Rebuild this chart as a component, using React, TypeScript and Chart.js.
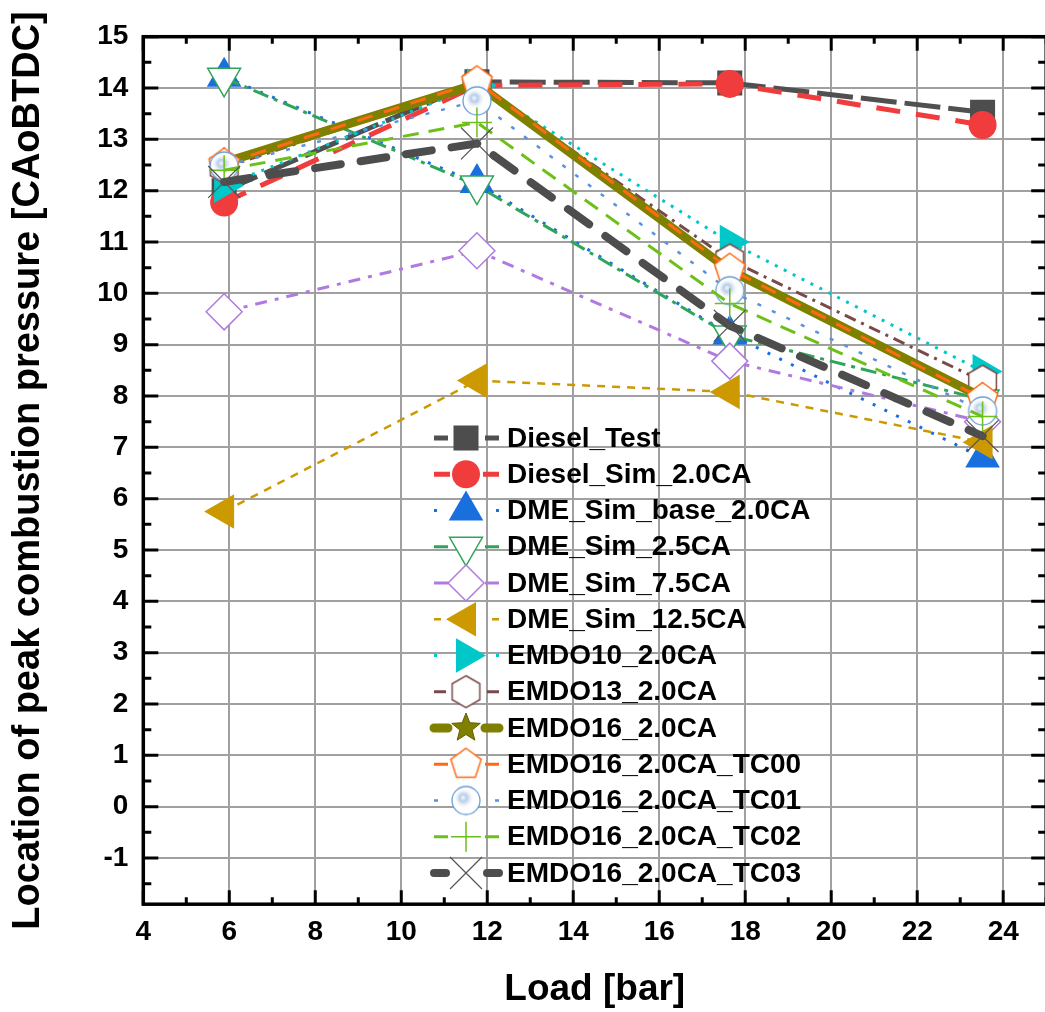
import React, { useEffect, useRef } from 'react';
import { Chart, registerables } from 'chart.js';
import { drawPoint } from 'chart.js/helpers';

Chart.register(...registerables);

// ---------------- data ----------------
const LOADS = [5.88, 11.76, 17.64, 23.52];

const DIESEL_TEST = [12.0, 14.12, 14.1, 13.53];
const DIESEL_SIM_2_0CA = [11.77, 14.05, 14.08, 13.28];
const DME_SIM_BASE_2_0CA = [14.22, 12.15, 9.2, 6.8];
const DME_SIM_2_5CA = [14.2, 12.1, 9.18, 7.93];
const DME_SIM_7_5CA = [9.64, 10.83, 8.68, 7.5];
const DME_SIM_12_5CA = [5.75, 8.3, 8.08, 7.1];
const EMDO10_2_0CA = [12.1, 14.05, 11.0, 8.48];
const EMDO13_2_0CA = [12.45, 14.08, 10.65, 8.29];
const EMDO16_2_0CA = [12.55, 14.08, 10.45, 7.97];
const EMDO16_TC00 = [12.52, 14.12, 10.47, 7.95];
const EMDO16_TC01 = [12.48, 13.75, 10.05, 7.71];
const EMDO16_TC02 = [12.4, 13.33, 9.8, 7.6];
const EMDO16_TC03 = [12.17, 12.92, 9.37, 7.22];

const SERIES_NAMES = [
  'Diesel_Test',
  'Diesel_Sim_2.0CA',
  'DME_Sim_base_2.0CA',
  'DME_Sim_2.5CA',
  'DME_Sim_7.5CA',
  'DME_Sim_12.5CA',
  'EMDO10_2.0CA',
  'EMDO13_2.0CA',
  'EMDO16_2.0CA',
  'EMDO16_2.0CA_TC00',
  'EMDO16_2.0CA_TC01',
  'EMDO16_2.0CA_TC02',
  'EMDO16_2.0CA_TC03',
];

const X_TICKS = [4, 6, 8, 10, 12, 14, 16, 18, 20, 22, 24];
const Y_TICKS = [-1, 0, 1, 2, 3, 4, 5, 6, 7, 8, 9, 10, 11, 12, 13, 14, 15];
const X_MIN = 4;
const X_MAX = 25;
const Y_MIN = -1.9;
const Y_MAX = 15;

const X_TITLE = 'Load [bar]';
const Y_TITLE = 'Location of peak combustion pressure [CAoBTDC]';

const FONT = '"Liberation Sans", Arial, sans-serif';

// ---------------- marker images ----------------
function makeCanvas(size: number) {
  const c = document.createElement('canvas');
  c.width = size;
  c.height = size;
  return c;
}

function polygonMarker(sides: number, r: number, stroke: string, fill: string, lw: number) {
  const size = Math.ceil(2 * r + 2 * lw + 2);
  const c = makeCanvas(size);
  const ctx = c.getContext('2d')!;
  const cx = size / 2, cy = size / 2;
  ctx.beginPath();
  for (let i = 0; i < sides; i++) {
    const a = -Math.PI / 2 + (i * 2 * Math.PI) / sides;
    const x = cx + r * Math.cos(a);
    const y = cy + r * Math.sin(a);
    if (i === 0) ctx.moveTo(x, y); else ctx.lineTo(x, y);
  }
  ctx.closePath();
  ctx.fillStyle = fill;
  ctx.fill();
  ctx.strokeStyle = stroke;
  ctx.lineWidth = lw;
  ctx.stroke();
  return c;
}

function starMarker(r: number, inner: number, color: string) {
  const size = Math.ceil(2 * r + 4);
  const c = makeCanvas(size);
  const ctx = c.getContext('2d')!;
  const cx = size / 2, cy = size / 2;
  ctx.beginPath();
  for (let i = 0; i < 10; i++) {
    const a = -Math.PI / 2 + (i * Math.PI) / 5;
    const rr = i % 2 === 0 ? r : inner;
    const x = cx + rr * Math.cos(a);
    const y = cy + rr * Math.sin(a);
    if (i === 0) ctx.moveTo(x, y); else ctx.lineTo(x, y);
  }
  ctx.closePath();
  ctx.fillStyle = color;
  ctx.fill();
  ctx.strokeStyle = '#5e5e00';
  ctx.lineWidth = 1;
  ctx.stroke();
  return c;
}

function glossyCircleMarker(r: number, stroke: string) {
  const size = Math.ceil(2 * r + 4);
  const c = makeCanvas(size);
  const ctx = c.getContext('2d')!;
  const cx = size / 2, cy = size / 2;
  ctx.beginPath();
  ctx.arc(cx, cy, r, 0, Math.PI * 2);
  ctx.fillStyle = '#ffffff';
  ctx.fill();
  const g = ctx.createRadialGradient(cx - 3, cy - 3, 0, cx - 2, cy - 2, r * 0.75);
  g.addColorStop(0, '#f4f8fd');
  g.addColorStop(0.35, '#b6cde9');
  g.addColorStop(1, 'rgba(255,255,255,0)');
  ctx.beginPath();
  ctx.arc(cx, cy, r, 0, Math.PI * 2);
  ctx.fillStyle = g;
  ctx.fill();
  ctx.strokeStyle = stroke;
  ctx.lineWidth = 1.3;
  ctx.stroke();
  return c;
}

// ---------------- component ----------------
export default function App() {
  const canvasRef = useRef<HTMLCanvasElement | null>(null);

  useEffect(() => {
    const canvas = canvasRef.current;
    if (!canvas) return;

    const hexagon = polygonMarker(6, 16, '#7a4a4a', '#ffffff', 1.5);
    const pentagon = polygonMarker(5, 16, '#ff6a13', '#ffffff', 1.5);
    const star = starMarker(15, 6.5, '#808000');
    const glossy = glossyCircleMarker(14, '#6a9fd8');

    const series = [
      DIESEL_TEST, DIESEL_SIM_2_0CA, DME_SIM_BASE_2_0CA, DME_SIM_2_5CA, DME_SIM_7_5CA,
      DME_SIM_12_5CA, EMDO10_2_0CA, EMDO13_2_0CA, EMDO16_2_0CA, EMDO16_TC00,
      EMDO16_TC01, EMDO16_TC02, EMDO16_TC03,
    ];

    // legend: per-series short sample segment [start, end] on each side of the marker
    const styles: any[] = [
      { color: '#505050', width: 5, dash: [36, 8], cap: 'butt', pointStyle: 'rect', radius: 17.7, fill: '#4d4d4d', border: '#4d4d4d', bw: 0, rot: 0, seg: 14 },
      { color: '#f03c3c', width: 5, dash: [24, 16], cap: 'butt', pointStyle: 'circle', radius: 14, fill: '#f03c3c', border: '#f03c3c', bw: 0, rot: 0, seg: 16 },
      { color: '#1a6fdf', width: 3, dash: [3, 10], cap: 'butt', pointStyle: 'triangle', radius: 20, fill: '#1a6fdf', border: '#1a6fdf', bw: 0, rot: 0, seg: 3 },
      { color: '#2ea55a', width: 3, dash: [16, 6, 4, 6], cap: 'butt', pointStyle: 'triangle', radius: 19, fill: '#ffffff', border: '#2ea55a', bw: 1.5, rot: 180, seg: 14 },
      { color: '#b07ae0', width: 3, dash: [12, 8, 4, 8], cap: 'butt', pointStyle: 'rectRot', radius: 18, fill: '#ffffff', border: '#b07ae0', bw: 1.5, rot: 0, seg: 14 },
      { color: '#cc9900', width: 2.5, dash: [8, 7], cap: 'butt', pointStyle: 'triangle', radius: 20, fill: '#cc9900', border: '#cc9900', bw: 0, rot: -90, seg: 7 },
      { color: '#00c8c8', width: 3, dash: [3, 7], cap: 'butt', pointStyle: 'triangle', radius: 20, fill: '#00c8c8', border: '#00c8c8', bw: 0, rot: 90, seg: 3 },
      { color: '#7a4a4a', width: 3, dash: [12, 6, 3, 6], cap: 'butt', pointStyle: hexagon, radius: 16, fill: '#ffffff', border: '#7a4a4a', bw: 1.5, rot: 0, seg: 12 },
      { color: '#808000', width: 9, dash: [], cap: 'round', pointStyle: star, radius: 15, fill: '#808000', border: '#808000', bw: 0, rot: 0, seg: 14 },
      { color: '#ff6a13', width: 3, dash: [16, 12], cap: 'butt', pointStyle: pentagon, radius: 16, fill: '#ffffff', border: '#ff6a13', bw: 1.5, rot: 0, seg: 14 },
      { color: '#5b93d8', width: 2.5, dash: [4, 12], cap: 'butt', pointStyle: glossy, radius: 14, fill: '#ffffff', border: '#6a9fd8', bw: 1.3, rot: 0, seg: 4 },
      { color: '#6cc01a', width: 3, dash: [16, 10], cap: 'butt', pointStyle: 'cross', radius: 15, fill: '#6cc01a', border: '#6cc01a', bw: 1.5, rot: 0, seg: 14 },
      { color: '#4d4d4d', width: 8, dash: [26, 20], cap: 'round', pointStyle: 'crossRot', radius: 22.6, fill: '#555555', border: '#555555', bw: 1.2, rot: 0, seg: 12 },
    ];

    const datasets = series.map((vals, i) => {
      const s = styles[i];
      return {
        label: SERIES_NAMES[i],
        data: LOADS.map((x, j) => ({ x, y: vals[j] })),
        borderColor: s.color,
        backgroundColor: s.fill,
        borderWidth: s.width,
        borderDash: s.dash,
        borderCapStyle: i === 8 ? 'butt' : s.cap,
        pointStyle: s.pointStyle,
        pointRadius: s.radius,
        pointHoverRadius: s.radius,
        pointRotation: s.rot,
        pointBackgroundColor: s.fill,
        pointBorderColor: s.border,
        pointBorderWidth: s.bw,
        tension: 0,
        fill: false,
        order: -i,
      };
    });

    const frameAndTicks = {
      id: 'frameAndTicks',
      afterDatasetsDraw(chart: any) {
        const { ctx, chartArea } = chart;
        const xs = chart.scales.x;
        const ys = chart.scales.y;
        const { left, right, top, bottom } = chartArea;
        ctx.save();
        ctx.strokeStyle = '#000000';
        ctx.lineWidth = 3;
        ctx.lineCap = 'butt';
        ctx.beginPath();
        for (let v = X_MIN; v <= X_MAX + 1e-9; v += 1) {
          const px = xs.getPixelForValue(v);
          const major = X_TICKS.includes(v);
          const L = major ? 14 : 7;
          ctx.moveTo(px, bottom);
          ctx.lineTo(px, bottom - L);
          ctx.moveTo(px, top);
          ctx.lineTo(px, top + L);
        }
        for (let v = -1.5; v <= Y_MAX + 1e-9; v += 0.5) {
          const py = ys.getPixelForValue(v);
          const major = Math.abs(v - Math.round(v)) < 1e-9;
          const L = major ? 15 : 8;
          ctx.moveTo(left, py);
          ctx.lineTo(left + L, py);
          ctx.moveTo(right, py);
          ctx.lineTo(right - L, py);
        }
        ctx.stroke();
        ctx.lineWidth = 3.5;
        ctx.strokeRect(left, top, right - left, bottom - top);
        ctx.restore();
      },
    };

    const legendPlugin = {
      id: 'customLegend',
      afterDraw(chart: any) {
        const { ctx } = chart;
        const x0 = 434, x1 = 499, mx = 466, tx = 507;
        const y0 = 438, dy = 36.25;
        ctx.save();
        chart.data.datasets.forEach((ds: any, i: number) => {
          const y = y0 + i * dy;
          const seg = styles[i].seg;
          ctx.save();
          ctx.strokeStyle = ds.borderColor;
          ctx.lineWidth = ds.borderWidth;
          ctx.lineCap = styles[i].cap;
          ctx.setLineDash([]);
          ctx.beginPath();
          ctx.moveTo(x0, y);
          ctx.lineTo(x0 + seg, y);
          ctx.moveTo(x1 - seg, y);
          ctx.lineTo(x1, y);
          ctx.stroke();
          ctx.restore();

          ctx.save();
          ctx.fillStyle = ds.pointBackgroundColor;
          ctx.strokeStyle = ds.pointBorderColor;
          ctx.lineWidth = ds.pointBorderWidth || 0;
          drawPoint(ctx, {
            pointStyle: ds.pointStyle,
            rotation: ds.pointRotation || 0,
            radius: ds.pointRadius,
            borderWidth: ds.pointBorderWidth || 0,
          } as any, mx, y);
          ctx.restore();

          ctx.fillStyle = '#000000';
          ctx.font = `bold 28px ${FONT}`;
          ctx.textAlign = 'left';
          ctx.textBaseline = 'middle';
          ctx.fillText(ds.label, tx, y + 1);
        });
        ctx.restore();
      },
    };

    const tickFont = { family: FONT, size: 28, weight: 'bold' as const };
    const titleFont = { family: FONT, size: 37, weight: 'bold' as const };

    const chart = new Chart(canvas, {
      type: 'line',
      data: { datasets: datasets as any },
      options: {
        responsive: false,
        animation: false,
        devicePixelRatio: 1,
        layout: { padding: { left: 0, top: 36.7, right: 16.7, bottom: 0 } },
        plugins: { legend: { display: false }, tooltip: { enabled: false } },
        scales: {
          x: {
            type: 'linear',
            min: X_MIN,
            max: X_MAX,
            afterFit: (s: any) => { s.height = 107.8; },
            afterBuildTicks: (s: any) => { s.ticks = X_TICKS.map((v) => ({ value: v })); },
            grid: { color: '#a0a0a0', lineWidth: 2, drawTicks: false },
            border: { display: false },
            ticks: { padding: 11, font: tickFont, color: '#000000', maxRotation: 0, autoSkip: false },
            title: { display: true, text: X_TITLE, font: titleFont, color: '#000000', padding: { top: 0, bottom: 0 } },
          },
          y: {
            type: 'linear',
            min: Y_MIN,
            max: Y_MAX,
            afterFit: (s: any) => { s.width = 143.3; },
            afterBuildTicks: (s: any) => { s.ticks = Y_TICKS.map((v) => ({ value: v })); },
            grid: { color: '#a0a0a0', lineWidth: 2, drawTicks: false },
            border: { display: false },
            ticks: { padding: 15, font: tickFont, color: '#000000', autoSkip: false },
            title: { display: true, text: Y_TITLE, font: { family: FONT, size: 38, weight: 'bold' as const }, color: '#000000', padding: { top: 6, bottom: 0 } },
          },
        },
      } as any,
      plugins: [frameAndTicks, legendPlugin],
    });

    return () => chart.destroy();
  }, []);

  return (
    <div style={{ position: 'absolute', left: 0, top: 0, width: 1045, height: 1012, overflow: 'hidden', background: '#ffffff' }}>
      <canvas ref={canvasRef} width={1070} height={1012} style={{ width: 1070, height: 1012, display: 'block' }} />
    </div>
  );
}
